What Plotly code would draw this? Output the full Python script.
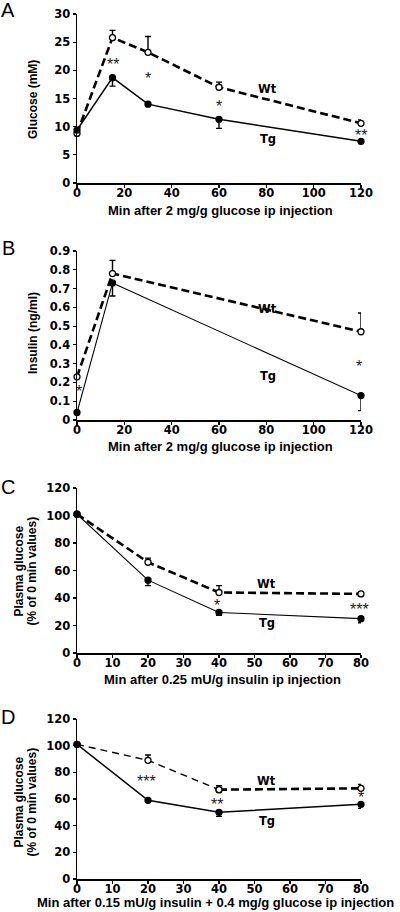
import plotly.graph_objects as go

# ---------------- data ----------------
# Panel A: glucose tolerance (mM)
a_time = [0, 15, 30, 60, 120]
a_wt = [8.8, 25.8, 23.2, 17.0, 10.6]
a_wt_err = [0.0, 1.3, 2.8, 0.9, 0.6]
a_tg = [9.4, 18.7, 14.0, 11.3, 7.4]
a_tg_err = [0.0, 1.5, 0.3, 1.6, 0.4]

# Panel B: insulin (ng/ml)
b_time = [0, 15, 120]
b_wt = [0.23, 0.78, 0.47]
b_wt_err = [0.0, 0.07, 0.10]
b_tg = [0.04, 0.73, 0.13]
b_tg_err = [0.0, 0.07, 0.08]

# Panel C: insulin tolerance (% of 0 min)
c_time = [0, 20, 40, 80]
c_wt = [101, 66, 44, 43]
c_wt_err = [0, 3, 5, 0.5]
c_tg = [101, 53, 29.5, 25]
c_tg_err = [0, 4, 2, 3]

# Panel D: insulin + glucose (% of 0 min)
d_time = [0, 20, 40, 80]
d_wt = [101, 89, 67, 68]
d_wt_err = [0, 4, 3, 3]
d_tg = [101, 59, 50, 56]
d_tg_err = [0, 1.5, 3, 3]

# significance marks: (x, y, text)
a_stars = [(15, 21.5, "**"), (30, 19.0, "*"), (60, 14.2, "*"), (120, 9.0, "**")]
b_stars = [(1, 0.17, "*"), (119, 0.30, "*")]
c_stars = [(39.5, 36.5, "*"), (79.5, 34.0, "***")]
d_stars = [(19.6, 75.5, "***"), (39.5, 58.5, "**"), (80, 63.5, "*")]

# series labels: (x, y) for Wt and Tg
a_lab = [(80.7, 16.7), (80.7, 7.9)]
b_lab = [(80.7, 0.59), (80.7, 0.235)]
c_lab = [(53.4, 50), (53.4, 21.5)]
d_lab = [(53.4, 73.7), (53.4, 43.7)]

W, H = 400, 912
FONT = "Liberation Sans, Arial, sans-serif"
WIDE = "DejaVu Sans, Verdana, sans-serif"

def px(x):
    return x / W

def py(y):
    return 1 - y / H

panels = [
    dict(xd=(77, 361), yd=(14, 183), xr=[0, 120], yr=[0, 30], xdt=20, ydt=5),
    dict(xd=(77, 361), yd=(251, 420), xr=[0, 120], yr=[0, 0.9], xdt=20, ydt=0.1),
    dict(xd=(77, 361), yd=(488, 653), xr=[0, 80], yr=[0, 120], xdt=10, ydt=20),
    dict(xd=(77, 361), yd=(719, 879), xr=[0, 80], yr=[0, 120], xdt=10, ydt=20),
]

fig = go.Figure()
layout = dict(width=W, height=H, margin=dict(l=0, r=0, t=0, b=0, autoexpand=False),
              paper_bgcolor="white", plot_bgcolor="white", showlegend=False,
              font=dict(family=FONT, color="black"))

tickfont = dict(family=WIDE, size=11.5, color="black", weight="bold")
for i, p in enumerate(panels):
    n = "" if i == 0 else str(i + 1)
    ax = dict(domain=[px(p["xd"][0]), px(p["xd"][1])], range=p["xr"], dtick=p["xdt"], tick0=0,
              showline=True, linecolor="black", linewidth=1.5, ticks="outside", ticklen=3,
              tickwidth=1.2, tickcolor="black", showgrid=False, zeroline=False,
              tickfont=tickfont, ticklabelstandoff=-4,
              anchor="y" + n, fixedrange=True, automargin=False)
    ay = dict(domain=[py(p["yd"][1]), py(p["yd"][0])], range=p["yr"], dtick=p["ydt"], tick0=0,
              showline=True, linecolor="black", linewidth=1.5, ticks="outside", ticklen=3,
              tickwidth=1.2, tickcolor="black", showgrid=False, zeroline=False,
              tickfont=tickfont,
              anchor="x" + n, fixedrange=True, automargin=False)
    if i == 1:
        vals = [k / 10 for k in range(10)]
        ay.update(tickmode="array", tickvals=vals,
                  ticktext=["0"] + ["%.1f" % v for v in vals[1:]])
    layout["xaxis" + n] = ax
    layout["yaxis" + n] = ay

def add_series(t, vals, err, wt, xa, ya, width, dash, up=True):
    fig.add_trace(go.Scatter(
        x=t, y=vals, xaxis=xa, yaxis=ya, mode="lines+markers", cliponaxis=False,
        line=dict(color="black", width=width, dash=dash),
        marker=dict(size=6, color="white" if wt else "black",
                    line=dict(color="black", width=1.3)),
        error_y=dict(type="data", array=err if up else [0] * len(err),
                     arrayminus=[0] * len(err) if up else err,
                     symmetric=False, color="black", thickness=1.4, width=3),
    ))

add_series(a_time, a_wt, a_wt_err, True, "x", "y", 2.6, "8px,4px", up=True)
add_series(a_time, a_tg, a_tg_err, False, "x", "y", 1.5, "solid", up=False)
add_series(b_time, b_wt, b_wt_err, True, "x2", "y2", 2.6, "8px,4px", up=True)
add_series(b_time, b_tg, b_tg_err, False, "x2", "y2", 1.1, "solid", up=False)
add_series(c_time, c_wt, c_wt_err, True, "x3", "y3", 2.6, "8px,4px", up=True)
add_series(c_time, c_tg, c_tg_err, False, "x3", "y3", 1.1, "solid", up=False)
add_series(d_time[:3], d_wt[:3], d_wt_err[:3], True, "x4", "y4", 1.4, "7px,5px", up=True)
add_series(d_time[2:], d_wt[2:], d_wt_err[2:], True, "x4", "y4", 2.6, "8px,4px", up=True)
add_series(d_time, d_tg, d_tg_err, False, "x4", "y4", 1.5, "solid", up=False)

ann = []
def note(**kw):
    kw.setdefault("showarrow", False)
    kw.setdefault("xanchor", "center")
    kw.setdefault("yanchor", "middle")
    ann.append(kw)

for i, stars in enumerate([a_stars, b_stars, c_stars, d_stars]):
    n = "" if i == 0 else str(i + 1)
    for (x, y, t) in stars:
        note(x=x, y=y, xref="x" + n, yref="y" + n, text=t, yshift=-3,
             font=dict(family=FONT, size=16, color="#222"))
for i, labs in enumerate([a_lab, b_lab, c_lab, d_lab]):
    n = "" if i == 0 else str(i + 1)
    for (x, y), t in zip(labs, ["Wt", "Tg"]):
        note(x=x, y=y, xref="x" + n, yref="y" + n, text=t,
             font=dict(family=WIDE, size=11.5, color="black", weight="bold"))

for (x, y, t) in [(8, 10, "A"), (8, 248, "B"), (8, 487, "C"), (8, 717, "D")]:
    note(x=px(x), y=py(y), xref="paper", yref="paper", text=t,
         font=dict(family=FONT, size=20, color="black"))

for (x, y, t) in [(220, 210, "Min after 2 mg/g glucose ip injection"),
                  (220, 446, "Min after 2 mg/g glucose ip injection"),
                  (222, 679, "Min after 0.25 mU/g insulin ip injection"),
                  (215, 902, "Min after 0.15 mU/g insulin + 0.4 mg/g glucose ip injection")]:
    note(x=px(x), y=py(y), xref="paper", yref="paper", text=t,
         font=dict(family=FONT, size=13, color="black", weight="bold"))

for (x, y, t) in [(33, 100, "Glucose (mM)"),
                  (33, 333, "Insulin (ng/ml)"),
                  (18.5, 571, "Plasma glucose"),
                  (31.5, 571, "(% of 0 min values)"),
                  (18.5, 802, "Plasma glucose"),
                  (31.5, 802, "(% of 0 min values)")]:
    note(x=px(x), y=py(y), xref="paper", yref="paper", text=t, textangle=-90,
         font=dict(family=FONT, size=12, color="black", weight="bold"))

layout["annotations"] = ann
fig.update_layout(**layout)
fig.write_html("out.html", config={"displayModeBar": False, "staticPlot": True},
               post_script="document.body.style.margin='0';document.body.style.overflow='hidden';")
